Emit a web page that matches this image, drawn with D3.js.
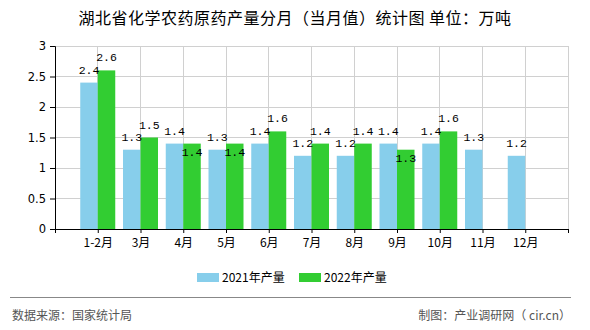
<!DOCTYPE html>
<html><head><meta charset="utf-8">
<script src="https://cdn.jsdelivr.net/npm/d3@7"></script>
<style>body{margin:0;background:#fff}svg{display:block}</style>
</head><body>
<svg id="c" width="590" height="330"></svg>
<script>
const categories = ["1-2月","3月","4月","5月","6月","7月","8月","9月","10月","11月","12月"];
const seriesNames = ["2021年产量","2022年产量"];
const values2021 = [2.4,1.3,1.4,1.3,1.4,1.2,1.2,1.4,1.4,1.3,1.2];
const values2022 = [2.6,1.5,1.4,1.4,1.6,1.4,1.4,1.3,1.6,null,null];
const yTicks = [0,0.5,1,1.5,2,2.5,3];
const colors = ["#87CEEB","#32CD32"];
const title = "湖北省化学农药原药产量分月（当月值）统计图 单位：万吨";
const sourceText = "数据来源：国家统计局";
const creditText = "制图：产业调研网（ cir.cn）";

const svg = d3.select("#c");
const L = 55, R = 568, T = 46, B = 229;
const slots = categories.length + 1;
const x = d3.scaleLinear().domain([0, slots]).range([L, R]);
const y = d3.scaleLinear().domain([0, 3]).range([B, T]);
const sub = d3.scaleBand().domain(seriesNames).range([-17.5, 17.5]);
const cjk = "'Noto Sans CJK SC', sans-serif";

// title
svg.append("text").attr("x", 295).attr("y", 24).attr("text-anchor","middle")
  .style("font-family", cjk).style("font-size","16px").style("letter-spacing","0.5px").attr("fill","#000").text(title);

// grid
svg.append("g").selectAll("line").data(yTicks.slice(1)).join("line")
  .attr("x1", L).attr("x2", R).attr("y1", d=>y(d)).attr("y2", d=>y(d))
  .attr("stroke","#d0d0d0").attr("stroke-width",1).attr("shape-rendering","crispEdges");
svg.append("g").selectAll("line").data(d3.range(1, slots+1)).join("line")
  .attr("x1", d=>x(d)).attr("x2", d=>x(d)).attr("y1", T).attr("y2", B)
  .attr("stroke","#d0d0d0").attr("stroke-width",1).attr("shape-rendering","crispEdges");

// bars
const series = [values2021, values2022];
series.forEach((vals, s) => {
  svg.append("g").selectAll("rect").data(vals.map((v,i)=>({v,i})).filter(d=>d.v!=null)).join("rect")
    .attr("x", d => x(d.i+1) + sub(seriesNames[s]))
    .attr("width", sub.bandwidth())
    .attr("y", d => y(d.v))
    .attr("height", d => B - y(d.v))
    .attr("fill", colors[s]);
});

// labels
const lab = svg.append("g").style("font-family","'Liberation Mono', monospace").style("font-size","11.5px").attr("fill","#000");
series.forEach((vals, s) => {
  vals.forEach((v,i) => {
    if (v == null) return;
    let yy = y(v) - 9;
    if (s === 1 && values2021[i] != null && y(v) > y(values2021[i]) - 10) yy = y(v) + 12;
    lab.append("text").attr("x", x(i+1) + sub(seriesNames[s]) + sub.bandwidth()/2)
      .attr("y", yy).attr("text-anchor","middle").text(v.toFixed(1));
  });
});

// axes
const xAxis = d3.axisBottom(x).tickValues(d3.range(0, slots+1)).tickSize(4).tickPadding(5)
  .tickFormat(i => categories[i-1] || "");
const gx = svg.append("g").attr("transform",`translate(0,${B})`).call(xAxis);
gx.select(".domain").attr("stroke","#000");
gx.selectAll("line").attr("stroke","#000");
gx.selectAll("text").style("font-family", cjk).style("font-size","12px").attr("fill","#000");

const yAxis = d3.axisLeft(y).tickValues(yTicks).tickSize(5).tickPadding(4).tickFormat(d3.format("~g"));
const gy = svg.append("g").attr("transform",`translate(${L},0)`).call(yAxis);
gy.select(".domain").attr("stroke","#000");
gy.selectAll("line").attr("stroke","#000");
gy.selectAll("text").style("font-family","'DejaVu Sans', sans-serif").style("font-size","11.5px").attr("fill","#000");

// legend
const legX = [197, 299];
seriesNames.forEach((n,s) => {
  svg.append("rect").attr("x", legX[s]).attr("y", 273).attr("width", 22).attr("height", 9).attr("fill", colors[s]);
  svg.append("text").attr("x", legX[s]+25).attr("y", 282).style("font-family", cjk).style("font-size","12px").attr("fill","#000").text(n);
});

// footer
svg.append("line").attr("x1",10).attr("x2",571).attr("y1",297.5).attr("y2",297.5).attr("stroke","#888").attr("stroke-width",1);
svg.append("text").attr("x",12).attr("y",320).style("font-family", cjk).style("font-size","12px").attr("fill","#555").text(sourceText);
svg.append("text").attr("x",571).attr("y",320).attr("text-anchor","end").style("font-family", cjk).style("font-size","12px").attr("fill","#555").text(creditText);
</script>
</body></html>
